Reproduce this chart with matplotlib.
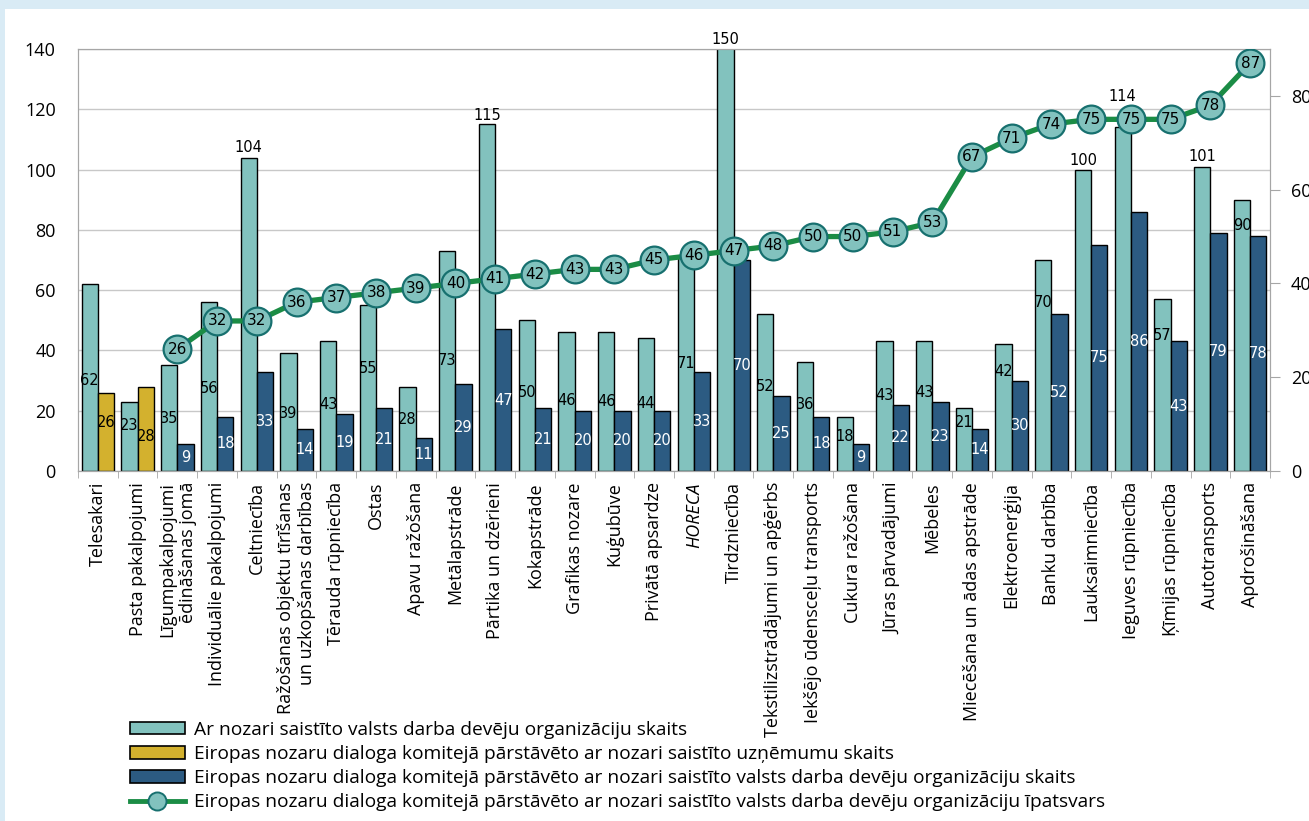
import numpy as np
import matplotlib
matplotlib.use('Agg')
import matplotlib.pyplot as plt
from matplotlib.patches import Patch, Rectangle
from matplotlib.lines import Line2D

plt.rcParams['font.family'] = ['Open Sans', 'DejaVu Sans']

# dati
sectors = ['Telesakari', 'Pasta pakalpojumi', 'Līgumpakalpojumi\nēdināšanas jomā',
           'Individuālie pakalpojumi', 'Celtniecība',
           'Ražošanas objektu tīrīšanas\nun uzkopšanas darbības', 'Tērauda rūpniecība',
           'Ostas', 'Apavu ražošana', 'Metālapstrāde', 'Pārtika un dzērieni',
           'Kokapstrāde', 'Grafikas nozare', 'Kuģubūve', 'Privātā apsardze', 'HORECA',
           'Tirdzniecība', 'Tekstilizstrādājumi un apģērbs', 'Iekšējo ūdensceļu transports',
           'Cukura ražošana', 'Jūras pārvadājumi', 'Mēbeles', 'Miecēšana un ādas apstrāde',
           'Elektroenerģija', 'Banku darbība', 'Lauksaimniecība', 'Ieguves rūpniecība',
           'Ķīmijas rūpniecība', 'Autotransports', 'Apdrošināšana']

national_orgs = [62, 23, 35, 56, 104, 39, 43, 55, 28, 73, 115, 50, 46, 46, 44, 71, 150,
                 52, 36, 18, 43, 43, 21, 42, 70, 100, 114, 57, 101, 90]
companies = [26, 28] + [np.nan] * 28
dialog_orgs = [np.nan, np.nan, 9, 18, 33, 14, 19, 21, 11, 29, 47, 21, 20, 20, 20, 33, 70,
               25, 18, 9, 22, 23, 14, 30, 52, 75, 86, 43, 79, 78]
share = [np.nan, np.nan, 26, 32, 32, 36, 37, 38, 39, 40, 41, 42, 43, 43, 45, 46, 47,
         48, 50, 50, 51, 53, 67, 71, 74, 75, 75, 75, 78, 87]

legend_labels = [
    'Ar nozari saistīto valsts darba devēju organizāciju skaits',
    'Eiropas nozaru dialoga komitejā pārstāvēto ar nozari saistīto uzņēmumu skaits',
    'Eiropas nozaru dialoga komitejā pārstāvēto ar nozari saistīto valsts darba devēju organizāciju skaits',
    'Eiropas nozaru dialoga komitejā pārstāvēto ar nozari saistīto valsts darba devēju organizāciju īpatsvars',
]

# label placement for the light bars (left axis units)
teal_label_y = [30, 15, 17.5, 27.5, 107.2, 19, 22, 34, 17, 36.5, 117.8, 26, 23.5, 23, 22.5,
                35.5, 143.3, 28, 22, 11.6, 25, 26, 16, 33, 56, 102.9, 124.4, 45, 104.5, 81.6]

c_teal = '#82c2be'
c_gold = '#d3b12e'
c_dark = '#2c5b82'
c_line = '#1b8c45'
c_mec = '#17706f'
c_grid = '#c8c8c8'
c_spine = '#a6a6a6'

fig = plt.figure(figsize=(13.09, 8.21), dpi=100)
fig.patch.set_facecolor('#d9ebf5')
fig.add_artist(Rectangle((5 / 1309, 0), 1, 1 - 9 / 821, transform=fig.transFigure,
                         facecolor='white', edgecolor='none', zorder=-10))

ax = fig.add_axes([78 / 1309, 1 - 471 / 821, (1270 - 78) / 1309, (471 - 49) / 821])
ax.set_facecolor('none')
x = np.arange(len(sectors))
w = 0.41

ax.bar(x - w / 2, national_orgs, w, color=c_teal, edgecolor='black', linewidth=1, zorder=2)
ax.bar(x + w / 2, companies, w, color=c_gold, edgecolor='black', linewidth=1, zorder=2)
ax.bar(x + w / 2, dialog_orgs, w, color=c_dark, edgecolor='black', linewidth=1, zorder=2)

ax.set_xlim(-0.5, len(sectors) - 0.5)
ax.set_ylim(0, 140)
ax.set_yticks(range(0, 141, 20))
ax.yaxis.grid(True, color=c_grid, linewidth=1)
ax.set_axisbelow(True)
for s in ax.spines.values():
    s.set_color(c_spine)
ax.tick_params(axis='y', length=0, pad=16, labelsize=13)

ax.set_xticks(x)
ax.set_xticklabels(sectors, rotation=90, fontsize=13, ha='center', va='top',
                   multialignment='right')
ax.set_xticks(np.arange(-0.5, len(sectors), 1), minor=True)
ax.tick_params(axis='x', which='major', length=0, pad=8)
ax.tick_params(axis='x', which='minor', length=5, color=c_spine)
for lbl in ax.get_xticklabels():
    if lbl.get_text() == 'HORECA':
        lbl.set_style('italic')

# bar labels
for i, v in enumerate(national_orgs):
    ax.text(x[i] - w / 2, teal_label_y[i], str(v), ha='center', va='center', fontsize=10.5,
            family='DejaVu Sans', zorder=6, clip_on=False)
for i, v in enumerate(companies):
    if not np.isnan(v):
        ax.text(x[i] + w / 2, v / 2 + (3 if i == 0 else -2.5), str(int(v)), ha='center',
                va='center', fontsize=10.5, family='DejaVu Sans', zorder=6)
for i, v in enumerate(dialog_orgs):
    if not np.isnan(v):
        ax.text(x[i] + w / 2, v / 2, str(int(v)), ha='center', va='center', fontsize=10.5,
                family='DejaVu Sans', color='white', zorder=6)

# share line on the right axis
ax2 = ax.twinx()
ax2.set_ylim(0, 90)
ax2.set_yticks(range(0, 81, 20))
ax2.tick_params(axis='y', length=7, color=c_spine, pad=8, labelsize=13)
for s in ax2.spines.values():
    s.set_color(c_spine)
ax2.plot(x, share, color=c_line, linewidth=3.8, marker='o', markersize=20,
         markerfacecolor=c_teal, markeredgecolor=c_mec, markeredgewidth=1.6, zorder=5)
for i, v in enumerate(share):
    if not np.isnan(v):
        ax2.text(x[i], v, str(int(v)), ha='center', va='center', fontsize=11,
                 family='DejaVu Sans', zorder=7)

handles = [
    Patch(facecolor=c_teal, edgecolor='black', linewidth=1.2),
    Patch(facecolor=c_gold, edgecolor='black', linewidth=1.2),
    Patch(facecolor=c_dark, edgecolor='black', linewidth=1.2),
    Line2D([], [], color=c_line, linewidth=3.5, marker='o', markersize=13,
           markerfacecolor=c_teal, markeredgecolor=c_mec, markeredgewidth=1.4),
]
fig.legend(handles, legend_labels, loc='upper left',
           bbox_to_anchor=(130 / 1309, 1 - 721 / 821), frameon=False, fontsize=13.8,
           handlelength=2.85, handleheight=0.62, handletextpad=0.5, labelspacing=0.32,
           borderaxespad=0, borderpad=0)

fig.savefig('out.png', dpi=100)
